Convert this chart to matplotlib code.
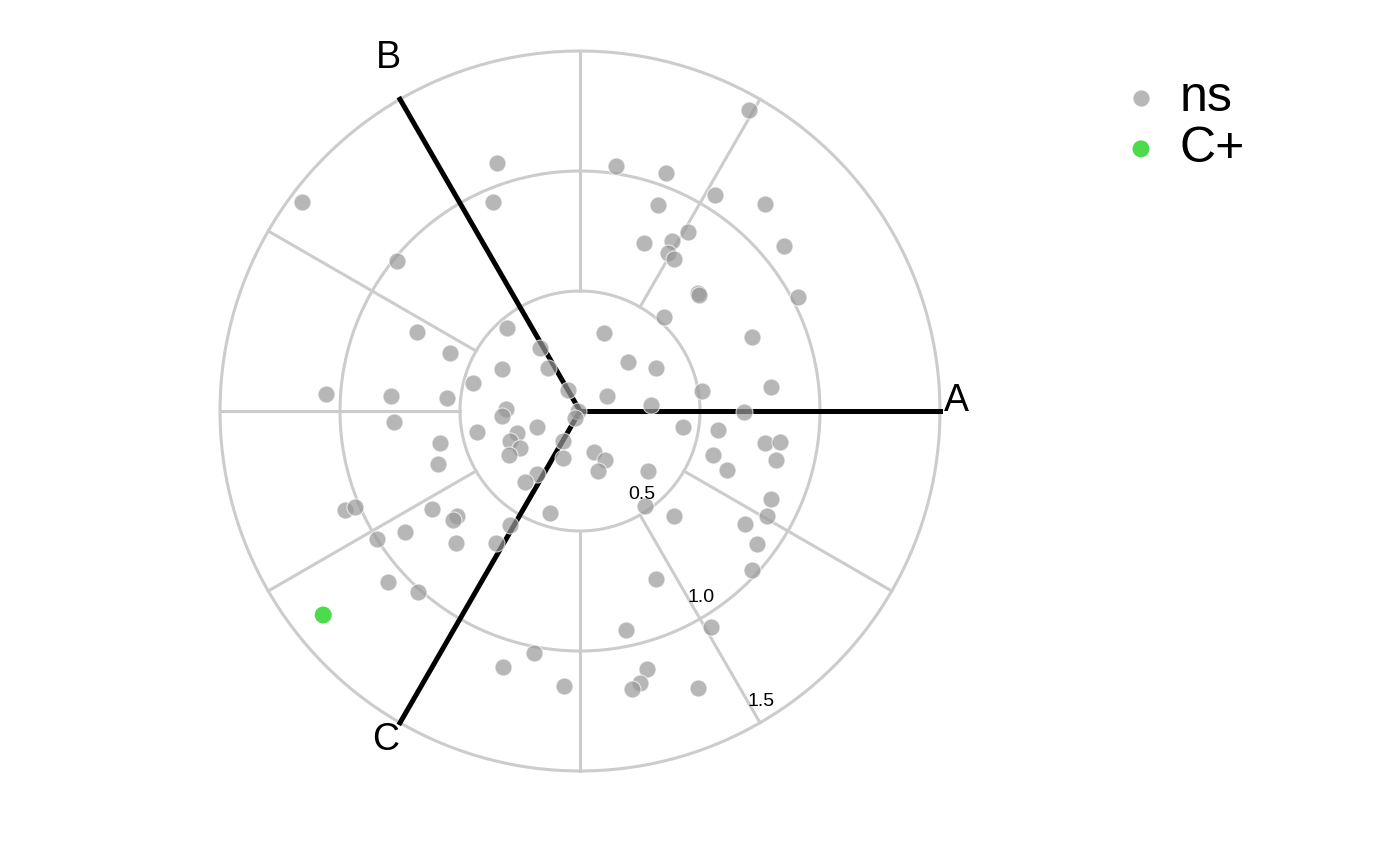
import matplotlib.pyplot as plt
import numpy as np

plt.rcParams['font.family'] = ['Liberation Sans', 'DejaVu Sans']

# DATA (radial position of each gene, cartesian coords in the polar frame)
ns_x = [-0.347, -0.361, -1.160, -0.764, -0.305, -0.678, -0.542, -0.167, -0.323, -0.135,
        -0.445, -0.052, -1.058, -0.789, -0.555, -0.308, -0.326, -0.008, -0.775,
        0.705, 0.150, 0.358, 0.563, 0.771, 0.325, 0.451, 0.267, 0.385, 0.368,
        0.392, 0.851, 0.907, 0.490, 0.494, 0.351, 0.717, 0.101, 0.201, 0.318,
        0.507, 0.797, 0.111, 0.295, 0.683, -0.021,
        -0.583, -0.590, -0.428, -0.264, -0.292, -0.250, -0.295, -0.180, -0.070,
        -0.070, -0.180, -0.229, -0.123, -0.979, -0.938, -0.618, -0.514, -0.528,
        -0.728, -0.847, -0.518, -0.292, -0.350, -0.801, -0.674, -0.190, -0.320,
        -0.067,
        0.431, 0.576, 0.771, 0.833, 0.817, 0.553, 0.614, 0.058, 0.104, 0.074,
        0.285, 0.269, 0.392, 0.796, 0.778, 0.688, 0.739, 0.715, 0.317, 0.190,
        0.545, 0.280, 0.250, 0.215, 0.490]
ns_y = [1.035, 0.872, 0.870, 0.626, 0.345, 0.328, 0.243, 0.261, 0.173, 0.178,
        0.115, 0.088, 0.070, 0.063, 0.053, 0.010, -0.021, 0.000, -0.044,
        1.254, 1.022, 0.990, 0.900, 0.863, 0.858, 0.747, 0.701, 0.710, 0.657,
        0.632, 0.688, 0.474, 0.490, 0.485, 0.390, 0.310, 0.326, 0.205, 0.178,
        0.083, 0.101, 0.064, 0.023, -0.006, -0.029,
        -0.135, -0.221, -0.089, -0.093, -0.125, -0.155, -0.183, -0.065, -0.125,
        -0.197, -0.261, -0.295, -0.426, -0.413, -0.399, -0.408, -0.438, -0.454,
        -0.505, -0.533, -0.551, -0.477, -0.551, -0.711, -0.755, -1.010, -1.065,
        -1.146,
        -0.065, -0.079, -0.132, -0.130, -0.204, -0.183, -0.246, -0.170, -0.204,
        -0.249, -0.248, -0.396, -0.438, -0.368, -0.438, -0.471, -0.554, -0.663,
        -0.699, -0.913, -0.900, -1.074, -1.135, -1.160, -1.153]
cp_x = [-1.070]
cp_y = [-0.850]

axis_labels = ['A', 'B', 'C']
axis_angles = [0, 120, 240]
grid_angles = [60, 90, 150, 180, 210, 270, 300, 330]
radial_ticks = [0.5, 1.0, 1.5]
r_max = 1.5

fig = plt.figure(figsize=(14, 8.66), dpi=100)
ax = fig.add_axes([0, 0, 1, 1])
# 240 px per unit, origin at pixel (580, 411)
ax.set_xlim(-580 / 240, (1400 - 580) / 240)
ax.set_ylim(-(866 - 411) / 240, 411 / 240)
ax.axis('off')

grid_col = '#cccccc'
t = np.linspace(0, 2 * np.pi, 400)
for r in radial_ticks:
    ax.plot(r * np.cos(t), r * np.sin(t), color=grid_col, lw=2.2, zorder=1)
for a in np.radians(grid_angles):
    ax.plot([0.5 * np.cos(a), r_max * np.cos(a)], [0.5 * np.sin(a), r_max * np.sin(a)],
            color=grid_col, lw=2.2, zorder=1)

# main axes A, B, C
for lab, a in zip(axis_labels, np.radians(axis_angles)):
    ax.plot([0, r_max * np.cos(a)], [0, r_max * np.sin(a)], color='black', lw=3.6, zorder=2)
offsets = {'A': (0.067, 0.042), 'B': (-0.05, 0.17), 'C': (-0.058, -0.072)}
for lab, a in zip(axis_labels, np.radians(axis_angles)):
    dx, dy = offsets[lab]
    ax.text(r_max * np.cos(a) + dx, r_max * np.sin(a) + dy, lab, fontsize=27,
            ha='center', va='center', zorder=4)

# radial tick labels along the 300 degree spoke
a = np.radians(300)
for r in radial_ticks:
    ax.text(r * np.cos(a) + 0.006, r * np.sin(a) + 0.087, f'{r:.1f}', fontsize=14,
            ha='center', va='center', zorder=4)

ax.scatter(ns_x, ns_y, s=150, color='#999999', alpha=0.7, edgecolors='white',
           linewidths=0.8, zorder=3, label='ns')
ax.scatter(cp_x, cp_y, s=150, color='#00cd00', alpha=0.7, edgecolors='none',
           zorder=3, label='C+')

ax.legend(loc='upper left', bbox_to_anchor=(1126 / 1400, 1 - 75 / 866),
          bbox_transform=fig.transFigure, frameon=False, fontsize=36,
          handlelength=0.6, handletextpad=0.48, labelspacing=0.1,
          borderpad=0, borderaxespad=0, scatterpoints=1)

fig.savefig('out.png', dpi=100)
